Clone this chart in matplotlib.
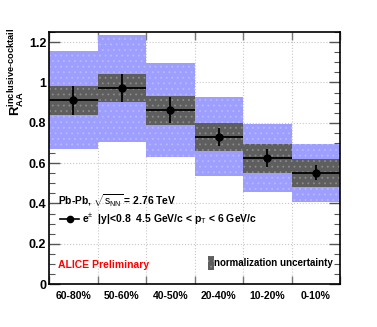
import matplotlib
matplotlib.use("Agg")
import matplotlib.pyplot as plt
from matplotlib.lines import Line2D
from matplotlib.patches import Rectangle
from matplotlib.ticker import MultipleLocator, FixedLocator

plt.rcParams["font.family"] = ["Liberation Sans", "DejaVu Sans"]
plt.rcParams["mathtext.fontset"] = "custom"
plt.rcParams["mathtext.rm"] = "Liberation Sans"
plt.rcParams["mathtext.it"] = "Liberation Sans"
plt.rcParams["mathtext.bf"] = "Liberation Sans:bold"
plt.rcParams["hatch.linewidth"] = 0.6

centrality = ["60-80%", "50-60%", "40-50%", "20-40%", "10-20%", "0-10%"]
raa = [0.911, 0.972, 0.863, 0.731, 0.625, 0.552]
stat_err = [0.070, 0.068, 0.064, 0.045, 0.043, 0.038]
sys_err = [0.071, 0.069, 0.072, 0.070, 0.072, 0.070]
tot_lo = [0.243, 0.266, 0.232, 0.196, 0.167, 0.144]
tot_hi = [0.244, 0.263, 0.236, 0.198, 0.168, 0.142]

BLUE = "#9e9eff"
BLUE_DOT = "#b8b8ff"
GREY = "#5e5e5e"
GREY_DOT = "#8a8a8a"

fig = plt.figure(figsize=(3.77, 3.27), dpi=100)
ax = fig.add_axes([0.130, 0.131, 0.772, 0.771])

n = len(centrality)
for i in range(n):
    ax.add_patch(Rectangle((i, raa[i] - tot_lo[i]), 1, tot_lo[i] + tot_hi[i],
                           facecolor=BLUE, edgecolor=BLUE_DOT, hatch="...",
                           linewidth=0, zorder=1))
for i in range(n):
    ax.add_patch(Rectangle((i, raa[i] - sys_err[i]), 1, 2 * sys_err[i],
                           facecolor=GREY, edgecolor=GREY_DOT, hatch="...",
                           linewidth=0, zorder=2))

xc = [i + 0.5 for i in range(n)]
ax.errorbar(xc, raa, xerr=0.5, yerr=stat_err, fmt="o", color="black",
            markersize=5, elinewidth=1.3, capsize=0, zorder=4)

ax.set_xlim(0, n)
ax.set_ylim(0, 1.25)

# grid
ax.xaxis.set_major_locator(FixedLocator(range(0, n + 1)))
ax.xaxis.set_minor_locator(FixedLocator(xc))
ax.xaxis.set_major_formatter(plt.NullFormatter())
ax.xaxis.set_minor_formatter(plt.FixedFormatter(centrality))
ax.yaxis.set_major_locator(MultipleLocator(0.2))
ax.yaxis.set_minor_locator(MultipleLocator(0.05))
ax.yaxis.set_major_formatter(plt.FuncFormatter(lambda v, p: f"{v:g}"))
ax.grid(True, which="major", color="#c8c8c8", linestyle=":", linewidth=0.8, zorder=0)
ax.set_axisbelow(True)

ax.tick_params(axis="x", which="major", direction="in", length=6, width=1,
               color="#777777", top=True, bottom=True)
ax.tick_params(axis="x", which="minor", length=0, pad=5, labelsize=7.5)
ax.tick_params(axis="y", which="major", direction="in", length=8, width=1,
               color="#555555", left=True, right=True, labelsize=9, pad=2)
ax.tick_params(axis="y", which="minor", direction="in", length=4, width=0.8,
               color="#555555", left=True, right=True)
for lab in ax.get_xticklabels(minor=True) + ax.get_yticklabels():
    lab.set_fontweight("bold")
for sp in ax.spines.values():
    sp.set_linewidth(1.2)

fig.text(0.045, 0.915,
         "$\\mathbf{R}_{\\mathbf{AA}}^{\\mathbf{inclusive\u2010cocktail}}$",
         rotation=90, ha="center", va="top", fontsize=9.5)

ax.text(0.03, 0.33, r"Pb-Pb, $\sqrt{s_{\mathrm{NN}}}$ = 2.76 TeV",
        transform=ax.transAxes, fontsize=7.4, fontweight="bold", va="center")
ax.legend(handles=[Line2D([0], [0], color="black", marker="o", markersize=4.5, lw=1.2,
                          label=r"e$^{\pm}$  |y|<0.8  4.5 GeV/c < p$_{\mathrm{T}}$ < 6 GeV/c")],
          loc="center left", bbox_to_anchor=(0.025, 0.258), frameon=False,
          handlelength=1.8, handletextpad=0.3, borderaxespad=0,
          prop={"size": 7.5, "weight": "bold"})
ax.text(0.03, 0.075, "ALICE Preliminary", transform=ax.transAxes, color="red",
        fontsize=7.5, fontweight="bold", va="center")
ax.add_patch(Rectangle((0.546, 0.058), 0.02, 0.055, transform=ax.transAxes,
                       facecolor=GREY, edgecolor=GREY_DOT, hatch="...",
                       linewidth=0, zorder=5))
ax.text(0.568, 0.083, "normalization uncertainty", transform=ax.transAxes,
        fontsize=7, fontweight="bold", va="center", zorder=6)

fig.savefig("out.png", dpi=100)
